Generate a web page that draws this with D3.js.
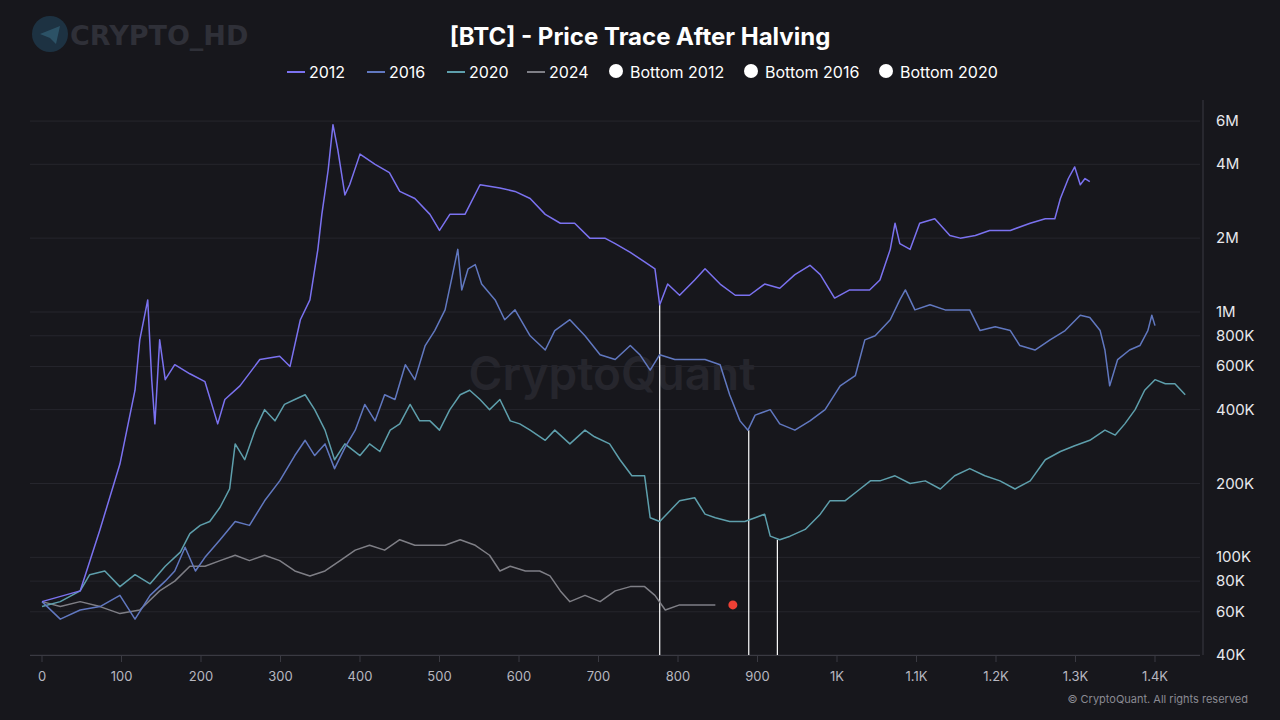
<!DOCTYPE html>
<html>
<head>
<meta charset="utf-8">
<script src="https://cdn.jsdelivr.net/npm/d3@7"></script>
<style>
body { margin: 0; background: #17171c; }
svg { display: block; font-family: Inter, "Noto Sans", sans-serif; }
</style>
</head>
<body>
<svg id="chart" width="1280" height="720"></svg>
<script>
// [day after halving, price]
var s2012 = [[0,66e3],[48,73e3],[73,130e3],[98,240e3],[117,480e3],[123,770e3],[133,1.12e6],[138,530e3],[142,350e3],[148,770e3],[155,530e3],[167,610e3],[186,560e3],[205,520e3],[221,350e3],[230,440e3],[249,500e3],[274,640e3],[299,660e3],[312,600e3],[325,930e3],[337,1.12e6],[347,1.8e6],[352,2.5e6],[360,3.8e6],[366,5.8e6],[372,4.6e6],[381,3.0e6],[387,3.3e6],[400,4.4e6],[419,4.0e6],[437,3.7e6],[450,3.1e6],[469,2.9e6],[488,2.5e6],[500,2.15e6],[513,2.5e6],[532,2.5e6],[551,3.3e6],[576,3.2e6],[595,3.1e6],[614,2.9e6],[633,2.5e6],[652,2.3e6],[670,2.3e6],[689,2.0e6],[708,2.0e6],[721,1.9e6],[740,1.75e6],[758,1.6e6],[771,1.5e6],[777,1.07e6],[787,1.3e6],[802,1.17e6],[821,1.35e6],[834,1.5e6],[853,1.3e6],[872,1.17e6],[890,1.17e6],[909,1.3e6],[928,1.25e6],[947,1.42e6],[966,1.55e6],[979,1.42e6],[997,1.14e6],[1016,1.23e6],[1041,1.23e6],[1054,1.35e6],[1067,1.8e6],[1073,2.3e6],[1079,1.9e6],[1092,1.8e6],[1104,2.3e6],[1123,2.4e6],[1142,2.05e6],[1155,2.0e6],[1174,2.05e6],[1192,2.15e6],[1218,2.15e6],[1243,2.3e6],[1262,2.4e6],[1274,2.4e6],[1281,2.9e6],[1291,3.5e6],[1299,3.9e6],[1306,3.3e6],[1312,3.5e6],[1318,3.4e6]];
var s2016 = [[0,66e3],[23,56e3],[48,61e3],[73,63e3],[98,70e3],[117,56e3],[136,70e3],[155,80e3],[167,88e3],[180,110e3],[193,88e3],[205,100e3],[224,118e3],[243,140e3],[261,135e3],[280,170e3],[299,205e3],[318,260e3],[331,300e3],[343,260e3],[356,290e3],[368,230e3],[381,280e3],[394,330e3],[406,420e3],[419,360e3],[431,460e3],[444,440e3],[457,610e3],[469,530e3],[482,730e3],[494,840e3],[507,1.02e6],[516,1.4e6],[523,1.8e6],[528,1.23e6],[536,1.5e6],[545,1.56e6],[553,1.3e6],[570,1.12e6],[582,930e3],[595,1.02e6],[614,800e3],[633,700e3],[645,840e3],[664,930e3],[683,800e3],[702,670e3],[721,640e3],[740,730e3],[752,670e3],[765,580e3],[777,670e3],[796,640e3],[815,640e3],[834,640e3],[853,610e3],[865,460e3],[878,360e3],[888,330e3],[897,380e3],[916,400e3],[928,350e3],[947,330e3],[966,360e3],[985,400e3],[1004,500e3],[1023,550e3],[1035,770e3],[1048,800e3],[1067,930e3],[1079,1.12e6],[1086,1.23e6],[1098,1.02e6],[1117,1.07e6],[1136,1.02e6],[1155,1.02e6],[1167,1.02e6],[1180,840e3],[1199,870e3],[1218,840e3],[1230,730e3],[1249,700e3],[1268,770e3],[1287,840e3],[1306,970e3],[1318,950e3],[1331,840e3],[1337,700e3],[1343,500e3],[1353,640e3],[1368,700e3],[1381,730e3],[1391,840e3],[1396,970e3],[1400,880e3]];
var s2020 = [[0,63e3],[23,66e3],[48,73e3],[60,85e3],[79,88e3],[98,76e3],[117,85e3],[136,78e3],[155,92e3],[174,105e3],[186,125e3],[199,135e3],[211,140e3],[224,160e3],[236,190e3],[243,290e3],[255,250e3],[268,330e3],[280,400e3],[293,360e3],[305,420e3],[318,440e3],[331,460e3],[343,400e3],[356,330e3],[368,250e3],[381,290e3],[400,260e3],[412,290e3],[425,270e3],[438,330e3],[450,350e3],[463,420e3],[475,360e3],[488,360e3],[500,330e3],[513,400e3],[526,460e3],[538,480e3],[551,440e3],[563,400e3],[576,440e3],[589,360e3],[601,350e3],[614,330e3],[633,300e3],[645,330e3],[664,290e3],[683,330e3],[695,310e3],[714,290e3],[727,250e3],[742,215e3],[758,215e3],[765,145e3],[777,140e3],[790,155e3],[802,170e3],[821,175e3],[834,150e3],[847,145e3],[865,140e3],[884,140e3],[897,145e3],[909,150e3],[916,122e3],[928,118e3],[941,122e3],[960,130e3],[979,150e3],[991,170e3],[1010,170e3],[1029,190e3],[1042,205e3],[1054,205e3],[1073,215e3],[1092,200e3],[1111,205e3],[1130,190e3],[1148,215e3],[1167,230e3],[1186,215e3],[1205,205e3],[1224,190e3],[1243,205e3],[1262,250e3],[1281,270e3],[1299,285e3],[1318,300e3],[1337,330e3],[1350,315e3],[1362,350e3],[1375,400e3],[1387,480e3],[1400,530e3],[1413,510e3],[1425,510e3],[1438,460e3]];
var s2024 = [[0,66e3],[23,63e3],[48,66e3],[73,63e3],[98,59e3],[123,61e3],[148,73e3],[167,80e3],[186,92e3],[205,92e3],[224,97e3],[243,102e3],[261,97e3],[280,102e3],[299,97e3],[318,88e3],[337,84e3],[356,88e3],[375,97e3],[394,107e3],[412,112e3],[431,107e3],[450,118e3],[469,112e3],[488,112e3],[507,112e3],[526,118e3],[545,112e3],[563,102e3],[576,88e3],[589,92e3],[608,88e3],[626,88e3],[639,84e3],[652,73e3],[664,66e3],[683,70e3],[702,66e3],[721,73e3],[740,76e3],[758,76e3],[771,70e3],[784,61e3],[802,64e3],[821,64e3],[834,64e3],[847,64e3]];
var bottoms = [[777,1.07e6],[889,330e3],[925,118e3]];
var current = [869,64e3];

var seriesNames = ["2012","2016","2020","2024"];
var seriesColors = ["#7b72f0","#6178c0","#5e9fac","#7f7f86"];
var seriesData = [s2012,s2016,s2020,s2024];
var yTicks = [40e3,60e3,80e3,100e3,200e3,400e3,600e3,800e3,1e6,2e6,4e6,6e6];
var yTickLabels = ["40K","60K","80K","100K","200K","400K","600K","800K","1M","2M","4M","6M"];
var xTicks = [0,100,200,300,400,500,600,700,800,900,1000,1100,1200,1300,1400];
var xTickLabels = ["0","100","200","300","400","500","600","700","800","900","1K","1.1K","1.2K","1.3K","1.4K"];

var svg = d3.select("#chart");
var x = d3.scaleLinear().domain([0,1400]).range([42,1155]);
var y = d3.scaleLog().domain([40e3,1e6]).range([655,312]);

// watermark
svg.append("circle").attr("cx",50).attr("cy",34).attr("r",18).attr("fill","#1f3a4c").attr("opacity",0.8);
svg.append("path").attr("d","M40,34 L60,26 L56,44 L50,38 Z").attr("fill","#2c5266");
svg.append("text").attr("x",70).attr("y",45).attr("fill","#2f3038").attr("font-size",27).attr("font-weight",900)
  .attr("font-family","'DejaVu Sans'").text("CRYPTO_HD");
svg.append("text").attr("x",612).attr("y",390).attr("text-anchor","middle").attr("fill","#26262d")
  .attr("font-size",46).attr("font-weight",600).text("CryptoQuant");

// grid
svg.append("g").selectAll("line").data(yTicks).enter().append("line")
  .attr("x1",30).attr("x2",1200).attr("y1",d=>y(d)).attr("y2",d=>y(d))
  .attr("stroke","#26262d").attr("stroke-width",1);
svg.append("line").attr("x1",1203).attr("x2",1203).attr("y1",100).attr("y2",655).attr("stroke","#3a3a42");
svg.append("line").attr("x1",30).attr("x2",1200).attr("y1",655.5).attr("y2",655.5).attr("stroke","#3a3a42");

// y labels
svg.append("g").selectAll("text").data(yTicks).enter().append("text")
  .attr("x",1216).attr("y",d=>y(d)+5).attr("fill","#e8e8ec").attr("font-size",15)
  .text((d,i)=>yTickLabels[i]);

// x axis
svg.append("g").selectAll("line").data(xTicks).enter().append("line")
  .attr("x1",d=>x(d)).attr("x2",d=>x(d)).attr("y1",656).attr("y2",662).attr("stroke","#3a3a42");
svg.append("g").selectAll("text").data(xTicks).enter().append("text")
  .attr("x",d=>x(d)).attr("y",681).attr("text-anchor","middle").attr("fill","#b8b8c0").attr("font-size",13)
  .text((d,i)=>xTickLabels[i]);

// bottom markers
svg.append("g").selectAll("line").data(bottoms).enter().append("line")
  .attr("x1",d=>x(d[0])).attr("x2",d=>x(d[0])).attr("y1",d=>y(d[1])).attr("y2",655)
  .attr("stroke","#ffffff").attr("stroke-width",1.2);

var line = d3.line().x(d=>x(d[0])).y(d=>y(d[1]));
svg.append("g").selectAll("path").data(seriesData.slice().reverse()).enter().append("path")
  .attr("d",line).attr("fill","none")
  .attr("stroke",(d,i)=>seriesColors[3-i]).attr("stroke-width",1.5).attr("stroke-linejoin","round");

svg.append("circle").attr("cx",x(current[0])).attr("cy",y(current[1])).attr("r",4.5).attr("fill","#ee4035");

// title
svg.append("text").attr("x",640).attr("y",45).attr("text-anchor","middle").attr("fill","#ffffff")
  .attr("font-size",24).attr("font-weight",700).text("[BTC] - Price Trace After Halving");

// legend
var legendItems = [
  {t:"2012",c:seriesColors[0],x:287},{t:"2016",c:seriesColors[1],x:367},
  {t:"2020",c:seriesColors[2],x:447},{t:"2024",c:seriesColors[3],x:527},
  {t:"Bottom 2012",dot:true,x:608},{t:"Bottom 2016",dot:true,x:743},{t:"Bottom 2020",dot:true,x:878}];
var lg = svg.append("g").selectAll("g").data(legendItems).enter().append("g");
lg.filter(d=>!d.dot).append("line").attr("x1",d=>d.x).attr("x2",d=>d.x+18).attr("y1",72).attr("y2",72)
  .attr("stroke",d=>d.c).attr("stroke-width",2);
lg.filter(d=>d.dot).append("circle").attr("cx",d=>d.x+8).attr("cy",71).attr("r",7).attr("fill","#ffffff");
lg.append("text").attr("x",d=>d.x+22).attr("y",78).attr("fill","#ffffff").attr("font-size",16).text(d=>d.t);

svg.append("text").attr("x",1248).attr("y",703).attr("text-anchor","end").attr("fill","#8a8a92")
  .attr("font-size",11).text("© CryptoQuant. All rights reserved");
</script>
</body>
</html>
